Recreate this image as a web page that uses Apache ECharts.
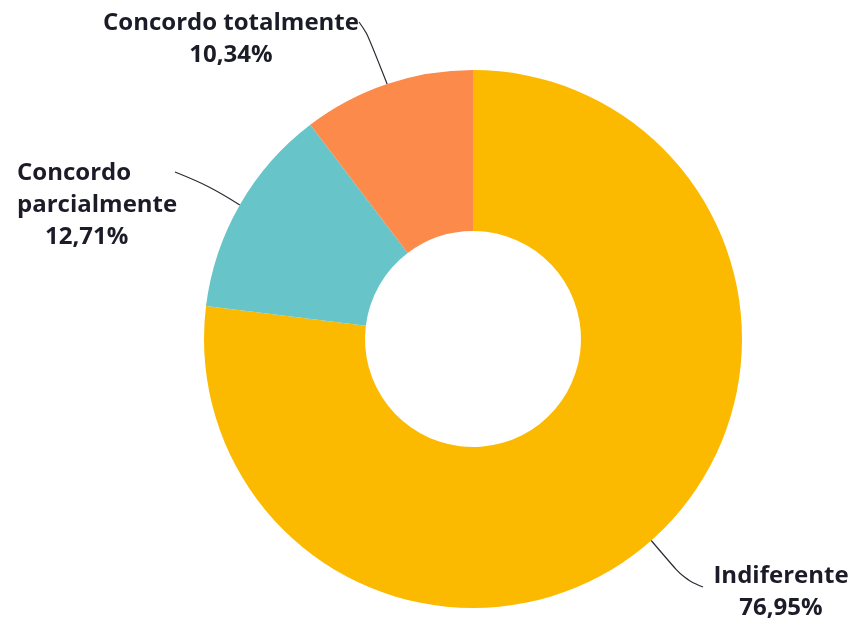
<!DOCTYPE html>
<html>
<head>
<meta charset="utf-8">
<script src="https://cdn.jsdelivr.net/npm/echarts@6/dist/echarts.min.js"></script>
<style>
  html, body { margin: 0; padding: 0; background: #ffffff; }
  #chart { width: 850px; height: 627px; }
</style>
</head>
<body>
<div id="chart"></div>
<script>
// Response shares, clockwise from 12 o'clock
const categories = ['Indiferente', 'Concordo parcialmente', 'Concordo totalmente'];
const labelNames = ['Indiferente', 'Concordo\nparcialmente', 'Concordo totalmente'];
const values = [76.95, 12.71, 10.34];
const colors = ['#FBBA00', '#67C4C8', '#FC8A4B'];

// Label block anchor (x, y) and horizontal alignment
const labelSpots = [[781, 592, 'center'], [17, 205, 'left'], [231, 39, 'center']];
// Indent of the percentage line under left-aligned labels
const valueIndent = [0, 28, 0];
// Bend and end points of each leader line (the start comes from the slice)
const leaderTails = [
  [[684, 579], [703, 587]],
  [[210, 186], [175, 172]],
  [[367, 33], [359, 22]]
];

const textBase = {
  fontFamily: 'Open Sans',
  fontWeight: 'bold',
  fontSize: 24,
  lineHeight: 32,
  color: '#1c1c29'
};

const chart = echarts.init(document.getElementById('chart'), null, { renderer: 'canvas' });

chart.setOption({
  backgroundColor: '#ffffff',
  animation: false,
  series: [{
    type: 'pie',
    center: [473, 339],
    radius: [108, 269],
    startAngle: 90,
    clockwise: true,
    avoidLabelOverlap: false,
    itemStyle: { borderWidth: 0 },
    data: categories.map((c, i) => ({
      name: c,
      value: values[i],
      itemStyle: { color: colors[i] },
      label: { align: labelSpots[i][2] }
    })),
    label: Object.assign({
      show: true,
      formatter: p => '{n|' + labelNames[p.dataIndex].replace('\n', '}\n{n|') + '}\n{v' + p.dataIndex + '|' +
        p.value.toFixed(2).replace('.', ',') + '%}',
      rich: {
        n: Object.assign({}, textBase),
        v0: Object.assign({ padding: [0, 0, 0, valueIndent[0]] }, textBase),
        v1: Object.assign({ padding: [0, 0, 0, valueIndent[1]] }, textBase),
        v2: Object.assign({ padding: [0, 0, 0, valueIndent[2]] }, textBase)
      }
    }, textBase),
    labelLine: {
      show: true,
      smooth: 0.4,
      lineStyle: { color: '#2a2a33', width: 1.2 }
    },
    labelLayout: p => ({
      x: labelSpots[p.dataIndex][0],
      y: labelSpots[p.dataIndex][1],
      align: labelSpots[p.dataIndex][2],
      verticalAlign: 'middle',
      labelLinePoints: [p.labelLinePoints[0]].concat(leaderTails[p.dataIndex])
    })
  }]
});
</script>
</body>
</html>
